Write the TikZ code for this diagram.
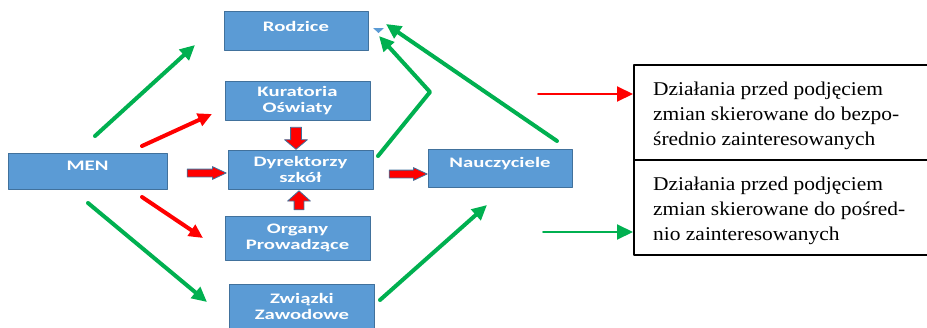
\documentclass[tikz,border=0pt]{standalone}
\usepackage{fontspec}
\setmainfont{Liberation Serif}
\newfontfamily\blokfont[FakeStretch=1.43]{Carlito}
\newfontfamily\legendafont[FakeStretch=1.1]{Liberation Serif}
\usetikzlibrary{arrows.meta,shapes.arrows}
\definecolor{blokniebieski}{HTML}{5B9BD5}
\definecolor{blokramka}{HTML}{41719C}
\definecolor{zielony}{HTML}{00B050}
\definecolor{czerwony}{HTML}{FF0000}
\tikzset{
  blok/.style={draw=blokramka, line width=1pt, fill=blokniebieski, text=white,
    minimum width=145pt, minimum height=39pt, inner sep=0pt, align=center,
    font=\blokfont\bfseries\fontsize{14.5}{16}\selectfont},
  wyzej/.style={text depth=#1},
  zielona/.style={draw=zielony, line width=4pt, -{Triangle[length=15pt,width=14pt]}},
  czerwona/.style={draw=czerwony, line width=4pt, -{Triangle[length=14pt,width=13pt]}},
  legstrz/.style={line width=2pt, -{Triangle[length=16pt,width=15pt]}},
  blokstrz/.style={single arrow, draw=blokramka, line width=0.8pt, fill=czerwony,
    inner xsep=0pt, single arrow head extend=#1},
  legenda/.style={draw=black, line width=2pt, minimum width=302pt, minimum height=95pt,
    inner sep=0pt, anchor=north west},
  legtekst/.style={anchor=north west, align=left, inner sep=0pt,
    font=\legendafont\fontsize{19.5}{25}\selectfont}
}
\begin{document}
\begin{tikzpicture}[x=1pt, y=-1pt, line cap=round, line join=round]
  \useasboundingbox (0,0) rectangle (927,327);

  % bloki
  \node[blok, minimum width=144pt, wyzej=9pt] (rodzice) at (296,30.5) {Rodzice};
  \node[blok] (kuratoria) at (297.5,100.5) {Kuratoria\\Oświaty};
  \node[blok] (dyrektorzy) at (300.5,169.5) {Dyrektorzy\\szkół};
  \node[blok, minimum height=44pt] (organy) at (297.5,238) {Organy\\Prowadzące};
  \node[blok, minimum height=44pt] (zwiazki) at (302,306) {Związki\\Zawodowe};
  \node[blok, minimum width=159pt, minimum height=36pt, wyzej=10pt] (men) at (87.5,171) {MEN};
  \node[blok, minimum width=144pt, minimum height=38pt, wyzej=12pt] (nauczyciele) at (500,168) {Nauczyciele};
  \fill[blokniebieski] (373,28) -- (384,28) -- (378.5,33) -- cycle;

  % strzalki blokowe
  \node[blokstrz=2.5pt, inner ysep=3.5pt, minimum height=39pt, single arrow tip angle=50] (s1) at (202.5,173) {};
  \node[blokstrz=2.5pt, inner ysep=3.5pt, minimum height=38pt, single arrow tip angle=50] (s2) at (404,174) {};
  \node[blokstrz=6pt, inner ysep=5pt, minimum height=22pt, single arrow tip angle=100, rotate=-90] (s3) at (296,136) {};
  \node[blokstrz=6.5pt, inner ysep=4.5pt, minimum height=19pt, single arrow tip angle=96, rotate=90] (s4) at (299,202.5) {};

  % punkty strzalek
  \coordinate (g1a) at (95,136);   \coordinate (g1b) at (195,45);
  \coordinate (g2a) at (88,203);   \coordinate (g2b) at (207,302);
  \coordinate (g3a) at (380,300);  \coordinate (g3b) at (487,205);
  \coordinate (g4a) at (378,156);  \coordinate (g4z) at (430,92);  \coordinate (g4b) at (379,36);
  \coordinate (g5a) at (557,141);  \coordinate (g5b) at (386,24);
  \coordinate (r1a) at (142,146);  \coordinate (r1b) at (212,114);
  \coordinate (r2a) at (142,197);  \coordinate (r2b) at (203,238);

  \draw[zielona] (g1a) -- (g1b);
  \draw[zielona] (g2a) -- (g2b);
  \draw[zielona] (g3a) -- (g3b);
  \draw[zielona] (g4a) -- (g4z) -- (g4b);
  \draw[zielona] (g5a) -- (g5b);
  \draw[czerwona] (r1a) -- (r1b);
  \draw[czerwona] (r2a) -- (r2b);

  % legenda
  \node[legenda] (bezposrednio) at (633,64) {};
  \node[legenda] (posrednio) at (633,159) {};
  \node[legtekst] (tekst1) at (653,82) {Działania przed podjęciem\\zmian skierowane do bezpo-\\średnio zainteresowanych};
  \node[legtekst] (tekst2) at (653,177) {Działania przed podjęciem\\zmian skierowane do pośred-\\nio zainteresowanych};
  \coordinate (lr) at (538,94);  \coordinate (lg) at (543,232);
  \draw[legstrz, czerwony] (lr) -- (bezposrednio.west |- lr);
  \draw[legstrz, zielony] (lg) -- (posrednio.west |- lg);
\end{tikzpicture}
\end{document}
